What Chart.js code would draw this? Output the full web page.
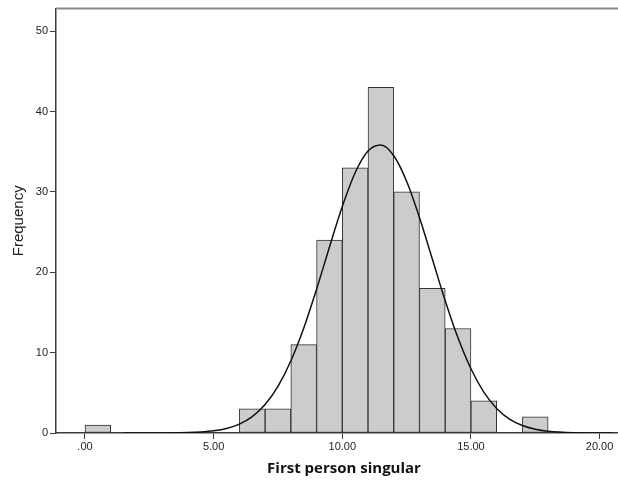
<!DOCTYPE html>
<html>
<head>
<meta charset="utf-8">
<script src="https://cdn.jsdelivr.net/npm/chart.js@4/dist/chart.umd.min.js"></script>
<style>
	html, body { margin: 0; padding: 0; background: #fff; overflow: hidden; }
	#hist { display: block; }
</style>
</head>
<body>
<canvas id="hist" width="632" height="481"></canvas>
<script>
// histogram bins (midpoints, width 1) and their counts
const binMids = [0.5, 6.5, 7.5, 8.5, 9.5, 10.5, 11.5, 12.5, 13.5, 14.5, 15.5, 17.5];
const frequencies = [1, 3, 3, 11, 24, 33, 43, 30, 18, 13, 4, 2];

// fitted normal curve, read at half steps
const curveX = [1.5, 2, 3, 4, 4.5, 5, 5.5, 6, 6.5, 7, 7.5, 8, 8.5, 9, 9.5, 10, 10.5, 11, 11.5,
	12, 12.5, 13, 13.5, 14, 14.5, 15, 15.5, 16, 16.5, 17, 17.5, 18, 19, 20, 20.5];
const curveY = [0, 0, 0.01, 0.05, 0.13, 0.28, 0.57, 1.11, 2.04, 3.55, 5.81, 8.96, 13.03, 17.88, 23.12,
	28.17, 32.38, 35.08, 35.83, 34.50, 31.33, 26.82, 21.64, 16.46, 11.81, 7.99, 5.09, 3.06, 1.73,
	0.93, 0.47, 0.22, 0.04, 0.01, 0];

const xTicks = [0, 5, 10, 15, 20];
const yTicks = [0, 10, 20, 30, 40, 50];

const axisColor = '#3c3c3c';
const textColor = '#222';

// frame line along the top of the plot
const topFrame = {
	id: 'topFrame',
	afterDraw(chart) {
		var a = chart.chartArea, c = chart.ctx;
		c.save();
		c.strokeStyle = '#8a8a8a';
		c.lineWidth = 2;
		c.beginPath();
		c.moveTo(a.left, a.top);
		c.lineTo(a.right, a.top);
		c.stroke();
		c.restore();
	}
};

new Chart(document.getElementById('hist'), {
	type: 'bar',
	data: {
		datasets: [{
			type: 'line',
			order: 0,
			data: curveX.map((x, i) => ({ x: x, y: curveY[i] })),
			borderColor: '#111',
			borderWidth: 1.5,
			pointRadius: 0,
			fill: false,
			cubicInterpolationMode: 'monotone'
		}, {
			type: 'bar',
			order: 1,
			data: binMids.map((x, i) => ({ x: x, y: frequencies[i] })),
			backgroundColor: '#cccccc',
			borderColor: '#333',
			borderWidth: 1,
			borderSkipped: false,
			barPercentage: 1,
			categoryPercentage: 1
		}]
	},
	options: {
		responsive: false,
		animation: false,
		events: [],
		layout: { padding: { top: 6, right: 0, bottom: 0, left: 0 } },
		plugins: { legend: { display: false }, tooltip: { enabled: false } },
		scales: {
			x: {
				type: 'linear',
				offset: false,
				min: -1.127,
				max: 21.26,
				afterFit: s => { s.height = 48; },
				afterBuildTicks: s => { s.ticks = xTicks.map(v => ({ value: v })); },
				grid: { offset: false, drawOnChartArea: false, drawTicks: true, tickLength: 6, color: axisColor, tickWidth: 1 },
				border: { color: axisColor, width: 1.5 },
				ticks: {
					padding: 1,
					color: textColor,
					font: { family: 'Liberation Sans', size: 11 },
					maxRotation: 0,
					callback: v => v === 0 ? '.00' : v.toFixed(2)
				},
				title: {
					display: true,
					text: 'First person singular',
					color: '#111',
					font: { family: 'Open Sans', size: 15, weight: 'bold' },
					padding: { top: 0, bottom: 3 }
				}
			},
			y: {
				min: 0,
				max: 52.8,
				afterFit: s => { s.width = 56; },
				afterBuildTicks: s => { s.ticks = yTicks.map(v => ({ value: v })); },
				grid: { drawOnChartArea: false, drawTicks: true, tickLength: 6, color: axisColor, tickWidth: 1 },
				border: { color: axisColor, width: 1.5 },
				ticks: {
					padding: 2,
					color: textColor,
					font: { family: 'Liberation Sans', size: 11 }
				},
				title: {
					display: true,
					text: 'Frequency',
					color: textColor,
					font: { family: 'Liberation Sans', size: 15 },
					padding: { top: 10, bottom: 0 }
				}
			}
		}
	},
	plugins: [topFrame]
});
</script>
</body>
</html>
